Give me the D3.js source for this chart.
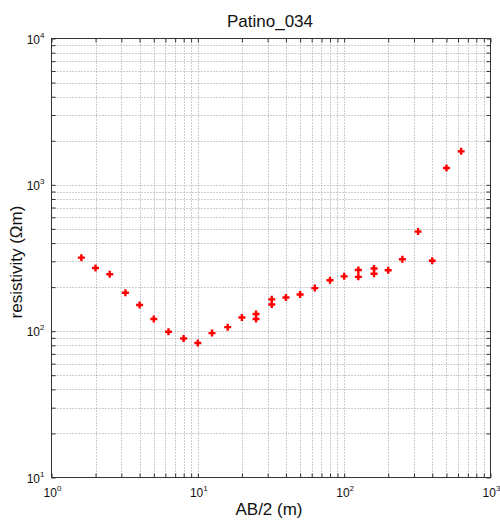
<!DOCTYPE html>
<html>
<head>
<meta charset="utf-8">
<script src="https://cdn.jsdelivr.net/npm/d3@7"></script>
<style>
  html, body { margin: 0; padding: 0; background: #fff; }
  svg { display: block; }
  text { font-family: "Liberation Sans", Arial, sans-serif; fill: #111; }
</style>
</head>
<body>
<svg id="chart" width="500" height="521"></svg>
<script>
// ---- data ----
const title = "Patino_034";
const xLabel = "AB/2 (m)";
const yLabel = "resistivity (\u03A9m)";
const ab2 = [1.6, 2, 2.5, 3.2, 4, 5, 6.3, 8, 10, 12.5, 16, 20, 25, 25, 32, 32, 40, 50, 63, 80, 100, 125, 125, 160, 160, 200, 250, 320, 400, 500, 630];
const rho = [318, 270, 245, 183, 151, 121, 99, 89, 83, 97, 106.5, 124, 131, 121, 165, 152, 170, 178, 197, 223, 237, 262, 235, 268, 247, 261, 310, 479, 303, 1303, 1693];
const xDomain = [1, 1000];
const yDomain = [10, 10000];
const xMajorExp = [0, 1, 2, 3];
const yMajorExp = [1, 2, 3, 4];

// ---- layout ----
const svg = d3.select("#chart");
const L = 51.5, R = 490.5, T = 38.5, B = 477.5;
const x = d3.scaleLog().domain(xDomain).range([L, R]);
const y = d3.scaleLog().domain(yDomain).range([B, T]);

function allTicks(domain) {
  const out = [];
  for (let e = Math.log10(domain[0]); e < Math.log10(domain[1]); e++) {
    for (let m = 1; m <= 9; m++) out.push(m * Math.pow(10, e));
  }
  out.push(domain[1]);
  return out;
}
const xTicks = allTicks(xDomain);
const yTicks = allTicks(yDomain);

// grid
const grid = svg.append("g").attr("stroke", "#9c9c9c").attr("stroke-width", 1)
  .attr("stroke-dasharray", "1,2").attr("fill", "none");
grid.selectAll(".gx").data(xTicks.filter(v => v > xDomain[0] && v < xDomain[1])).join("line")
  .attr("x1", d => Math.round(x(d)) + 0.5).attr("x2", d => Math.round(x(d)) + 0.5)
  .attr("y1", T).attr("y2", B);
grid.selectAll(".gy").data(yTicks.filter(v => v > yDomain[0] && v < yDomain[1])).join("line")
  .attr("y1", d => Math.round(y(d)) + 0.5).attr("y2", d => Math.round(y(d)) + 0.5)
  .attr("x1", L).attr("x2", R);

// axes with inward ticks on all sides
const tickLen = 4;
const axB = d3.axisBottom(x).tickValues(xTicks).tickSize(-tickLen).tickFormat("");
const axT = d3.axisTop(x).tickValues(xTicks).tickSize(-tickLen).tickFormat("");
const axL = d3.axisLeft(y).tickValues(yTicks).tickSize(-tickLen).tickFormat("");
const axR = d3.axisRight(y).tickValues(yTicks).tickSize(-tickLen).tickFormat("");
function styleAxis(g) {
  g.selectAll("path.domain").remove();
  g.selectAll(".tick line").attr("stroke", "#333");
}
svg.append("g").attr("transform", `translate(0,${B})`).call(axB).call(styleAxis);
svg.append("g").attr("transform", `translate(0,${T})`).call(axT).call(styleAxis);
svg.append("g").attr("transform", `translate(${L},0)`).call(axL).call(styleAxis);
svg.append("g").attr("transform", `translate(${R},0)`).call(axR).call(styleAxis);
svg.append("rect").attr("x", L).attr("y", T).attr("width", R - L).attr("height", B - T)
  .attr("fill", "none").attr("stroke", "#333").attr("stroke-width", 1);

// tick labels (10^n)
function powLabel(g, e) {
  g.append("tspan").text("10");
  g.append("tspan").text(String(e)).attr("font-size", 8).attr("dy", -6);
}
svg.append("g").selectAll("text").data(xMajorExp).join("text")
  .attr("x", d => x(Math.pow(10, d)) + 1).attr("y", B + 19)
  .attr("text-anchor", "middle").attr("font-size", 12)
  .each(function(d) { powLabel(d3.select(this), d); });
svg.append("g").selectAll("text").data(yMajorExp).join("text")
  .attr("x", L - 7).attr("y", d => y(Math.pow(10, d)) + 5)
  .attr("text-anchor", "end").attr("font-size", 12)
  .each(function(d) { powLabel(d3.select(this), d); });

// markers
const mk = svg.append("g").attr("stroke", "#ff0000").attr("stroke-width", 2.4);
const h = 3.5;
const pts = ab2.map((v, i) => [v, rho[i]]);
mk.selectAll("path").data(pts).join("path")
  .attr("d", d => {
    const px = x(d[0]), py = y(d[1]);
    return `M${px - h},${py}H${px + h}M${px},${py - h}V${py + h}`;
  });

// titles
svg.append("text").attr("x", 270).attr("y", 27).attr("text-anchor", "middle")
  .attr("font-size", 17).text(title);
svg.append("text").attr("x", 269).attr("y", 515).attr("text-anchor", "middle")
  .attr("font-size", 17).text(xLabel);
svg.append("text").attr("transform", "translate(22,262) rotate(-90)")
  .attr("text-anchor", "middle").attr("font-size", 17).text(yLabel);
</script>
</body>
</html>
